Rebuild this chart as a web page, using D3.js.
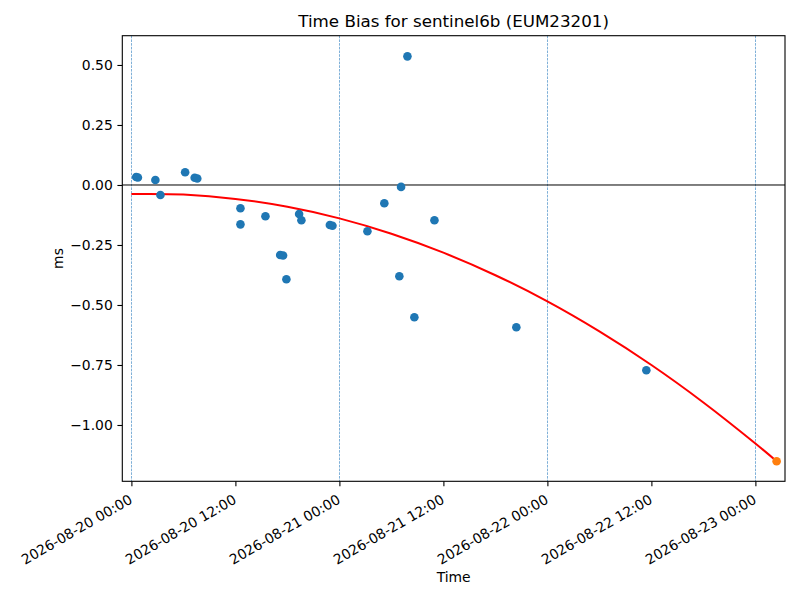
<!DOCTYPE html>
<html>
<head>
<meta charset="utf-8">
<script src="https://cdn.jsdelivr.net/npm/d3@7"></script>
<style>
    body { margin: 0; background: #fff; }
    text { font-family: "DejaVu Sans", sans-serif; fill: #000; }
</style>
</head>
<body>
<div class="chart"></div>
<script>
// measured time bias points (UTC time, ms)
const biasTimes = [
    "2026-08-20 00:33", "2026-08-20 00:45", "2026-08-20 02:46", "2026-08-20 03:21",
    "2026-08-20 06:12", "2026-08-20 07:18", "2026-08-20 07:36", "2026-08-20 12:35",
    "2026-08-20 12:35", "2026-08-20 15:28", "2026-08-20 17:10", "2026-08-20 17:30",
    "2026-08-20 17:53", "2026-08-20 19:21", "2026-08-20 19:37", "2026-08-20 22:54",
    "2026-08-20 23:12", "2026-08-21 03:14", "2026-08-21 05:11", "2026-08-21 06:55",
    "2026-08-21 07:07", "2026-08-21 07:51", "2026-08-21 08:39", "2026-08-21 10:58",
    "2026-08-21 20:25", "2026-08-22 11:25"
]
const biasValues = [
    0.033, 0.031, 0.021, -0.042,
    0.053, 0.030, 0.027, -0.097,
    -0.164, -0.130, -0.292, -0.294,
    -0.393, -0.121, -0.147, -0.167,
    -0.170, -0.193, -0.076, -0.380,
    -0.008, 0.536, -0.551, -0.147,
    -0.593, -0.772
]

// fitted curve
const fitTimes = [
    "2026-08-20 00:00", "2026-08-20 06:00", "2026-08-20 12:00", "2026-08-20 18:00",
    "2026-08-21 00:00", "2026-08-21 06:00", "2026-08-21 12:00", "2026-08-21 18:00",
    "2026-08-22 00:00", "2026-08-22 06:00", "2026-08-22 12:00", "2026-08-22 18:00",
    "2026-08-23 00:00", "2026-08-23 02:27"
]
const fitValues = [
    -0.038, -0.040, -0.058, -0.091,
    -0.139, -0.203, -0.282, -0.376,
    -0.485, -0.610, -0.750, -0.906,
    -1.077, -1.151
]

// predicted point
const predTime = ["2026-08-23 02:27"]
const predValue = [-1.151]

// day boundaries
const dayLines = ["2026-08-20 00:00", "2026-08-21 00:00", "2026-08-22 00:00", "2026-08-23 00:00"]

const yTicks = [-1.00, -0.75, -0.50, -0.25, 0.00, 0.25, 0.50]

const parseT = d3.utcParse("%Y-%m-%d %H:%M")

const width = 800
const height = 600
const mLeft = 122.3, mRight = 785, mTop = 35.7, mBottom = 481.3

const svg = d3.select('.chart')
    .append('svg')
    .attr('width', width)
    .attr('height', height)

const x = d3.scaleUtc()
    .domain([parseT("2026-08-19 22:57"), parseT("2026-08-23 03:25")])
    .range([mLeft, mRight])

const y = d3.scaleLinear()
    .domain([-1.2346, 0.622])
    .range([mBottom, mTop])

// day lines
svg.append('g')
    .attr('class', 'day-lines')
    .selectAll('line')
    .data(dayLines)
    .enter()
    .append('line')
    .attr('x1', d => Math.round(x(parseT(d))) + 0.5)
    .attr('x2', d => Math.round(x(parseT(d))) + 0.5)
    .attr('y1', mTop)
    .attr('y2', mBottom)
    .style('stroke', '#7fb0d8')
    .style('stroke-width', '1px')
    .style('stroke-dasharray', '2.6,1.1')

// zero line
svg.append('line')
    .attr('x1', mLeft)
    .attr('x2', mRight)
    .attr('y1', y(0))
    .attr('y2', y(0))
    .attr('stroke', '#000')
    .attr('stroke-width', 1)

// fit curve
const line = d3.line()
    .x((d, i) => x(parseT(fitTimes[i])))
    .y(d => y(d))
    .curve(d3.curveCatmullRom)

svg.append('path')
    .datum(fitValues)
    .attr('d', line)
    .attr('fill', 'none')
    .attr('stroke', '#ff0000')
    .attr('stroke-width', 2)

// scatter
svg.append('g')
    .selectAll('circle')
    .data(biasValues)
    .enter()
    .append('circle')
    .attr('cx', (d, i) => x(parseT(biasTimes[i])))
    .attr('cy', d => y(d))
    .attr('r', 4.3)
    .attr('fill', '#1f77b4')

svg.append('g')
    .selectAll('circle')
    .data(predValue)
    .enter()
    .append('circle')
    .attr('cx', (d, i) => x(parseT(predTime[i])))
    .attr('cy', d => y(d))
    .attr('r', 4.3)
    .attr('fill', '#ff7f0e')

// frame
svg.append('rect')
    .attr('x', mLeft)
    .attr('y', mTop)
    .attr('width', mRight - mLeft)
    .attr('height', mBottom - mTop)
    .attr('fill', 'none')
    .attr('stroke', '#000')
    .attr('stroke-width', 1.1)

// x axis
const xAxis = svg.append('g')
    .attr('transform', 'translate(0,' + mBottom + ')')
    .call(d3.axisBottom(x)
        .ticks(d3.utcHour.every(12))
        .tickFormat(d3.utcFormat("%Y-%m-%d %H:%M"))
        .tickSize(4.9)
        .tickSizeOuter(0))

xAxis.select('.domain').remove()
xAxis.selectAll('line').attr('stroke', '#000').attr('stroke-width', 1.1)
xAxis.selectAll('text')
    .attr('font-size', '13.9px')
    .attr('text-anchor', 'end')
    .attr('y', 0)
    .attr('dy', 0)
    .attr('transform', 'translate(1.5,21) rotate(-30)')

// y axis
const yAxis = svg.append('g')
    .attr('transform', 'translate(' + mLeft + ',0)')
    .call(d3.axisLeft(y)
        .tickValues(yTicks)
        .tickFormat(d3.format(".2f"))
        .tickSize(4.9)
        .tickSizeOuter(0))

yAxis.select('.domain').remove()
yAxis.selectAll('line').attr('stroke', '#000').attr('stroke-width', 1.1)
yAxis.selectAll('text')
    .attr('font-size', '13.9px')
    .attr('x', -9.5)

// labels
svg.append('text')
    .attr('x', (mLeft + mRight) / 2)
    .attr('y', 27)
    .attr('text-anchor', 'middle')
    .attr('font-size', '16.7px')
    .text('Time Bias for sentinel6b (EUM23201)')

svg.append('text')
    .attr('x', (mLeft + mRight) / 2)
    .attr('y', 582)
    .attr('text-anchor', 'middle')
    .attr('font-size', '13.9px')
    .text('Time')

svg.append('text')
    .attr('transform', 'translate(63,' + ((mTop + mBottom) / 2) + ') rotate(-90)')
    .attr('text-anchor', 'middle')
    .attr('font-size', '13.9px')
    .text('ms')
</script>
</body>
</html>
